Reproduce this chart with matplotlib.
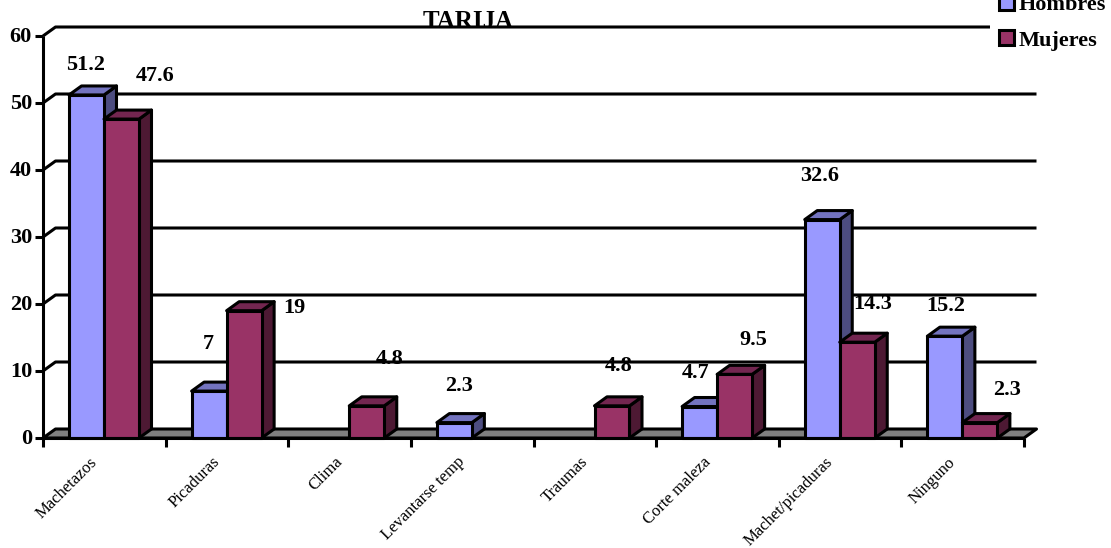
import matplotlib
matplotlib.use('Agg')
import matplotlib.pyplot as plt
from matplotlib.patches import Polygon, Patch

plt.rcParams['font.family'] = ['Liberation Serif', 'DejaVu Serif']

categories = ['Machetazos', 'Picaduras', 'Clima', 'Levantarse temp', 'Traumas',
              'Corte maleza', 'Machet/picaduras', 'Ninguno']
hombres = [51.2, 7, None, 2.3, None, 4.7, 32.6, 15.2]
mujeres = [47.6, 19, 4.8, None, 4.8, 9.5, 14.3, 2.3]
hombres_txt = ['51.2', '7', None, '2.3', None, '4.7', '32.6', '15.2']
mujeres_txt = ['47.6', '19', '4.8', None, '4.8', '9.5', '14.3', '2.3']

# label shift from the front top centre of each bar, in pixels
hombres_off = [(-1, 30), (-1, 47), None, (5, 37), None, (-4, 34), (-3, 44), (1, 30)]
mujeres_off = [(34, 43), (50, 3), (23, 47), None, (7, 40), (19, 34), (15, 38), (27, 33)]

# colours for each series: front, top, side
colours_h = ['#9999ff', '#7373bf', '#4d4d80']
colours_m = ['#993366', '#732650', '#4d1933']

W, H = 1111, 548
x0, x1 = 43, 1024   # pixel span of the x axis
y0, y60 = 438, 36   # pixel span of the y axis

fig = plt.figure(figsize=(W / 100, H / 100), dpi=100)
ax = fig.add_axes([x0 / W, 1 - y0 / H, (x1 - x0) / W, (y0 - y60) / H])
ax.set_xlim(0, len(categories))
ax.set_ylim(0, 60)
ax.axis('off')

# depth of the fake 3d, in data units
dx = 12.5 * len(categories) / (x1 - x0)
dy = 9 * 60 / (y0 - y60)
bar_w = 35 * len(categories) / (x1 - x0)
gap = 26 * len(categories) / (x1 - x0)
lw = 2.2


def poly(pts, colour, z):
    ax.add_patch(Polygon(pts, closed=True, facecolor=colour, edgecolor='k', linewidth=lw,
                         joinstyle='round', clip_on=False, zorder=z))


def line(xs, ys, z=1):
    ax.plot(xs, ys, color='k', lw=lw, clip_on=False, zorder=z, solid_capstyle='butt')


def bar(left, val, colours, z):
    r = left + bar_w
    poly([(r, 0), (r + dx, dy), (r + dx, val + dy), (r, val)], colours[2], z)
    poly([(left, val), (left + dx, val + dy), (r + dx, val + dy), (r, val)], colours[1], z)
    poly([(left, 0), (r, 0), (r, val), (left, val)], colours[0], z)


# floor
poly([(0, 0), (dx, dy), (8 + dx, dy), (8, 0)], '#808080', 2)

# walls and gridlines, drawn as one path so the corner at the wall joins up
for v in range(10, 70, 10):
    ax.plot([0, dx, 8 + dx], [v, v + dy, v + dy], color='k', lw=lw, clip_on=False, zorder=1,
            solid_capstyle='butt', solid_joinstyle='round')
line([0, 0], [0, 60], 6)
for v in range(0, 70, 10):
    line([-8 * 8 / (x1 - x0), 0], [v, v], 6)
    ax.annotate(str(v), (0, v), xytext=(-11, -1), textcoords='offset pixels', ha='right',
                va='center', fontsize=16, fontweight='bold')
line([0, 8], [0, 0], 6)
for i in range(len(categories) + 1):
    line([i, i], [0, -9 * 60 / (y0 - y60)], 6)

# bars and labels
for i in range(len(categories)):
    left = i + gap
    if hombres[i] is not None:
        bar(left, hombres[i], colours_h, 3 + i * 0.01)
        ax.annotate(hombres_txt[i], (left + bar_w / 2, hombres[i]), xytext=hombres_off[i],
                    textcoords='offset pixels', ha='center', va='center', fontsize=16,
                    fontweight='bold', zorder=7)
    if mujeres[i] is not None:
        bar(left + bar_w, mujeres[i], colours_m, 3.005 + i * 0.01)
        ax.annotate(mujeres_txt[i], (left + 1.5 * bar_w, mujeres[i]), xytext=mujeres_off[i],
                    textcoords='offset pixels', ha='center', va='center', fontsize=16,
                    fontweight='bold', zorder=7)
    # category names, slanted with their right end near the left tick
    ax.annotate(categories[i], (i + 0.5, 0), xytext=(-15, -16), textcoords='offset pixels',
                rotation=45, rotation_mode='anchor', ha='right', va='top', fontsize=12)

fig.text(468 / W, 1 - 21 / H, 'TARIJA', ha='center', va='center', fontsize=18, fontweight='bold',
         zorder=8)

# legend sits on a white block that hides the end of the top gridline
handles = [Patch(facecolor=colours_h[0], edgecolor='k', linewidth=lw),
           Patch(facecolor=colours_m[0], edgecolor='k', linewidth=lw)]
leg = fig.legend(handles, ['Hombres', 'Mujeres'], loc='upper left',
                 bbox_to_anchor=(990 / W, 1 + 14 / H), frameon=True, framealpha=1,
                 edgecolor='none', facecolor='white', fancybox=False,
                 prop={'size': 16, 'weight': 'bold'}, handlelength=0.68, handleheight=0.68,
                 handletextpad=0.22, labelspacing=0.67, borderpad=0.4, borderaxespad=0)
leg.set_zorder(9)

fig.savefig('out.png', dpi=100)
